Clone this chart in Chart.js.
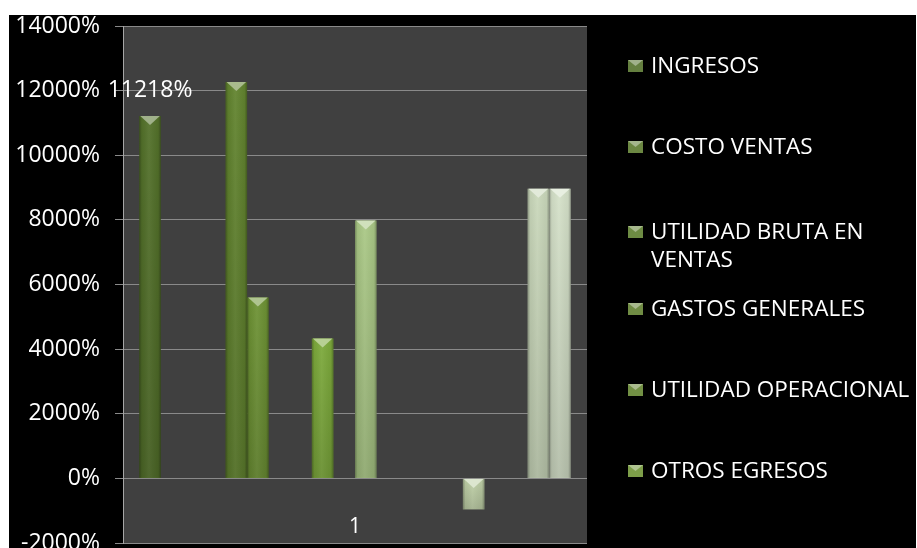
<!DOCTYPE html>
<html lang="es">
<head>
<meta charset="utf-8">
<title>Estado de resultados</title>
<script src="https://cdn.jsdelivr.net/npm/chart.js@4.4.1/dist/chart.umd.min.js"></script>
<style>
    html, body {
        margin: 0;
        padding: 0;
        background: #ffffff;
        width: 917px;
        height: 548px;
        overflow: hidden;
        position: relative;
    }
    .fondo {
        position: absolute;
        left: 9px;
        top: 15px;
        width: 907px;
        height: 533px;
        background: #000000;
    }
    #grafico {
        position: absolute;
        left: 0;
        top: 0;
    }
</style>
</head>
<body>
<div class="fondo"></div>
<canvas id="grafico" width="917" height="560"></canvas>

<script>
// Datos del gráfico
const categorias = ['1'];

const nombresSeries = [
    'INGRESOS',
    'COSTO VENTAS',
    'UTILIDAD BRUTA EN VENTAS',
    'GASTOS GENERALES',
    'UTILIDAD OPERACIONAL',
    'OTROS EGRESOS',
    'Serie 7', 'Serie 8', 'Serie 9', 'Serie 10',
    'Serie 11', 'Serie 12', 'Serie 13', 'Serie 14',
    'Serie 15', 'Serie 16', 'Serie 17', 'Serie 18',
    'Serie 19', 'Serie 20'
];

// Un valor (%) por serie; null = sin barra
const valoresSeries = [
    11218, null, null, null,
    12270, 5600, null, null,
    4330, null, 7980, null,
    null, null, null, -960,
    null, null, 8960, 8960
];

// Series que muestran etiqueta de valor
const seriesConEtiqueta = [0];

// Eje vertical
const ejeMin = -2000;
const ejeMax = 14000;
const ejePaso = 2000;

// Colores de cada serie (verde oscuro a verde pálido)
const coloresSeries = [
    '#53712a', '#5a7a2d', '#5d7e2e', '#607f2f',
    '#62842f', '#6e9335', '#74993a', '#79a03b',
    '#7daa3c', '#95b860', '#aac886', '#b0c890',
    '#b5cb98', '#b9cd9e', '#bccfa2', '#c0d1a8',
    '#c4d4b0', '#c8d7b6', '#cad8bb', '#d5e1c9'
];

// Cantidad de entradas visibles en la leyenda
const entradasLeyenda = 6;

const fuente = '"Open Sans", "Noto Sans", sans-serif';

// Mezcla un color hex con blanco
function aclarar(hex, t) {
    const n = parseInt(hex.slice(1), 16);
    const r = (n >> 16) & 255, g = (n >> 8) & 255, b = n & 255;
    const m = c => Math.round(c + (255 - c) * t);
    return `rgb(${m(r)}, ${m(g)}, ${m(b)})`;
}

// Fondo gris del área de trazado
const fondoArea = {
    id: 'fondoArea',
    beforeDraw(chart) {
        const { ctx, chartArea: a } = chart;
        ctx.save();
        ctx.fillStyle = '#404040';
        ctx.fillRect(a.left, a.top, a.right - a.left, a.bottom - a.top);
        ctx.restore();
    }
};

// Sombreado cilíndrico y bisel superior de las barras
const biselBarras = {
    id: 'biselBarras',
    afterDatasetsDraw(chart) {
        const ctx = chart.ctx;
        chart.data.datasets.forEach((ds, i) => {
            const meta = chart.getDatasetMeta(i);
            meta.data.forEach((bar, j) => {
                if (ds.data[j] === null) return;
                const w = bar.width;
                const x0 = bar.x - w / 2;
                const top = Math.min(bar.y, bar.base);
                const bottom = Math.max(bar.y, bar.base);
                const h = bottom - top;

                ctx.save();
                // bordes laterales más oscuros
                const gh = ctx.createLinearGradient(x0, 0, x0 + w, 0);
                gh.addColorStop(0, 'rgba(0,0,0,0.30)');
                gh.addColorStop(0.12, 'rgba(0,0,0,0.05)');
                gh.addColorStop(0.45, 'rgba(255,255,255,0.06)');
                gh.addColorStop(0.88, 'rgba(0,0,0,0.05)');
                gh.addColorStop(1, 'rgba(0,0,0,0.30)');
                ctx.fillStyle = gh;
                ctx.fillRect(x0, top, w, h);

                // oscurece hacia la base
                const gv = ctx.createLinearGradient(0, top, 0, bottom);
                gv.addColorStop(0, 'rgba(0,0,0,0)');
                gv.addColorStop(1, 'rgba(0,0,0,0.14)');
                ctx.fillStyle = gv;
                ctx.fillRect(x0, top, w, h);

                // bisel en forma de triángulo
                const d = Math.min(9, h);
                ctx.fillStyle = aclarar(ds.backgroundColor, 0.45);
                ctx.beginPath();
                ctx.moveTo(x0 + 1, top);
                ctx.lineTo(x0 + w - 1, top);
                ctx.lineTo(bar.x, top + d);
                ctx.closePath();
                ctx.fill();
                ctx.restore();
            });
        });
    }
};

// Etiquetas de valor, etiqueta de categoría y leyenda
const textos = {
    id: 'textos',
    afterDraw(chart) {
        const { ctx, chartArea: a } = chart;
        ctx.save();
        ctx.fillStyle = '#ffffff';

        // etiqueta de valor encima de la barra
        ctx.font = `500 23px ${fuente}`;
        ctx.textAlign = 'center';
        ctx.textBaseline = 'middle';
        seriesConEtiqueta.forEach(i => {
            const bar = chart.getDatasetMeta(i).data[0];
            const v = chart.data.datasets[i].data[0];
            ctx.fillText(v + '%', bar.x, bar.y - 25);
        });

        // etiqueta de la categoría
        ctx.font = `500 21px ${fuente}`;
        const xs = chart.scales.x;
        categorias.forEach((c, k) => {
            ctx.fillText(c, xs.getPixelForValue(k), a.bottom - 16);
        });

        // leyenda
        ctx.font = `500 22.5px ${fuente}`;
        ctx.textAlign = 'left';
        const xIcono = 628, xTexto = 651, yInicio = 66, paso = 81, anchoMax = 290;
        chart.data.datasets.slice(0, entradasLeyenda).forEach((ds, i) => {
            const palabras = ds.label.split(' ');
            const lineas = [];
            let actual = '';
            palabras.forEach(p => {
                const prueba = actual ? actual + ' ' + p : p;
                if (ctx.measureText(prueba).width > anchoMax && actual) {
                    lineas.push(actual);
                    actual = p;
                } else {
                    actual = prueba;
                }
            });
            lineas.push(actual);
            const y = yInicio + i * paso + (lineas.length > 1 ? 4 : 0);

            // icono con bisel
            const c = ds.backgroundColor;
            ctx.fillStyle = aclarar(c, 0.1);
            ctx.fillRect(xIcono, y - 6, 15, 12);
            ctx.fillStyle = aclarar(c, 0.45);
            ctx.beginPath();
            ctx.moveTo(xIcono, y - 6);
            ctx.lineTo(xIcono + 15, y - 6);
            ctx.lineTo(xIcono + 7.5, y);
            ctx.closePath();
            ctx.fill();

            ctx.fillStyle = '#ffffff';
            lineas.forEach((l, k) => ctx.fillText(l, xTexto, y + k * 28 + 1));
        });
        ctx.restore();
    }
};

const datasets = nombresSeries.map((nombre, i) => ({
    label: nombre,
    data: [valoresSeries[i]],
    backgroundColor: coloresSeries[i],
    borderWidth: 0,
    categoryPercentage: 0.93,
    barPercentage: 1.0
}));

const ctx = document.getElementById('grafico').getContext('2d');
const grafico = new Chart(ctx, {
    type: 'bar',
    data: {
        labels: categorias,
        datasets: datasets
    },
    options: {
        responsive: false,
        animation: false,
        layout: {
            padding: { left: 0, right: 330, top: 26, bottom: 17 }
        },
        plugins: {
            legend: { display: false },
            tooltip: { enabled: false }
        },
        scales: {
            x: {
                display: false
            },
            y: {
                min: ejeMin,
                max: ejeMax,
                ticks: {
                    stepSize: ejePaso,
                    color: '#ffffff',
                    padding: 15,
                    font: { family: fuente, size: 23, weight: 500 },
                    callback: v => v + '%'
                },
                grid: {
                    color: '#8a8a8a',
                    lineWidth: 1,
                    tickLength: 8,
                    drawTicks: true
                },
                border: {
                    display: true,
                    color: '#a6a6a6'
                },
                afterFit(scale) {
                    scale.width = 123;
                    scale.paddingTop = 0;
                    scale.paddingBottom = 0;
                }
            }
        }
    },
    plugins: [fondoArea, biselBarras, textos]
});
</script>
</body>
</html>
